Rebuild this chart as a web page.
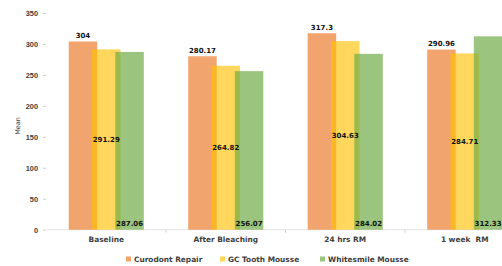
<!DOCTYPE html>
<html>
<head>
<meta charset="utf-8">
<script src="https://cdn.jsdelivr.net/npm/d3@7"></script>
<style>
  body { margin: 0; background: #fff; }
  svg { display: block; font-family: 'DejaVu Sans', sans-serif; }
</style>
</head>
<body>
<div id="chart"></div>
<script>
const categories = ['Baseline', 'After Bleaching', '24 hrs RM', '1 week  RM']
const seriesNames = ['Curodont Repair', 'GC Tooth Mousse', 'Whitesmile Mousse']
const curodont = [304, 280.17, 317.3, 290.96]
const gcTooth = [291.29, 264.82, 304.63, 284.71]
const whitesmile = [287.06, 256.07, 284.02, 312.33]
const yTicks = [0, 50, 100, 150, 200, 250, 300, 350]

const colors = ['#ED7D31', '#FFC000', '#70AD47']
const opac = [0.7, 0.64, 0.7]
const values = [curodont, gcTooth, whitesmile]

const width = 502
const height = 266

const svg = d3
  .select('#chart')
  .append('svg')
  .attr('width', width)
  .attr('height', height)

const xScale = d3
  .scaleBand()
  .domain(categories)
  .range([46.5, 524.5])

const yScale = d3
  .scaleLinear()
  .domain([0, 350])
  .range([229.7, 13])

const barW = 28.5
const step = 23.3

// y axis ticks
const yAxis = svg
  .append('g')
  .attr('class', 'axis y-axis')
  .attr('transform', 'translate(46,0)')
  .call(
    d3
      .axisLeft(yScale)
      .tickValues(yTicks)
      .tickSize(3)
      .tickPadding(5)
  )
yAxis.select('.domain').remove()
yAxis.selectAll('line').attr('stroke', '#d0d0d0')
yAxis
  .selectAll('text')
  .attr('font-size', 7.4)
  .attr('font-weight', 'bold')
  .attr('fill', '#404040')

// x baseline + ticks between categories
const xAxis = svg
  .append('g')
  .attr('class', 'axis x-axis')
  .attr('transform', 'translate(0,' + yScale(0) + ')')
xAxis
  .append('line')
  .attr('x1', xScale.range()[0])
  .attr('x2', width)
  .attr('stroke', '#e3e3e3')
  .attr('stroke-width', 1)
xAxis
  .selectAll('.sep')
  .data(categories.slice(1))
  .enter()
  .append('line')
  .attr('class', 'sep')
  .attr('x1', d => xScale(d))
  .attr('x2', d => xScale(d))
  .attr('y1', 0)
  .attr('y2', 3)
  .attr('stroke', '#d0d0d0')
xAxis
  .selectAll('.cat')
  .data(categories)
  .enter()
  .append('text')
  .attr('class', 'cat')
  .attr('x', d => xScale(d) + xScale.bandwidth() / 2)
  .attr('y', 12.5)
  .attr('text-anchor', 'middle')
  .attr('font-size', 7.4)
  .attr('font-weight', 'bold')
  .attr('fill', '#404040')
  .attr('xml:space', 'preserve')
  .text(d => d)

// bars
function barX(cat, i) {
  return xScale(cat) + xScale.bandwidth() / 2 + (i - 1) * step - barW / 2
}

values.forEach((vals, i) => {
  svg
    .append('g')
    .selectAll('rect')
    .data(categories)
    .enter()
    .append('rect')
    .attr('x', (d, j) => barX(d, i))
    .attr('width', barW)
    .attr('y', (d, j) => yScale(vals[j]))
    .attr('height', (d, j) => yScale(0) - yScale(vals[j]))
    .attr('fill', colors[i])
    .attr('fill-opacity', opac[i])
})

// value labels
const labelPos = [
  v => yScale(v) - 3.5,
  v => (yScale(v) + yScale(0)) / 2 + 2.6,
  v => yScale(0) - 4
]
values.forEach((vals, i) => {
  svg
    .append('g')
    .selectAll('text')
    .data(categories)
    .enter()
    .append('text')
    .attr('x', (d, j) => barX(d, i) + barW / 2)
    .attr('y', (d, j) => labelPos[i](vals[j]))
    .attr('text-anchor', 'middle')
    .attr('font-size', 7)
    .attr('font-weight', 'bold')
    .attr('fill', '#111')
    .text((d, j) => vals[j])
})

// y label
svg
  .append('text')
  .attr('transform', 'translate(19.5,126) rotate(-90)')
  .attr('text-anchor', 'middle')
  .attr('font-size', 6.5)
  .attr('fill', '#404040')
  .text('Mean')

// legend
const legendX = [126, 220, 320]
const legend = svg
  .append('g')
  .selectAll('g')
  .data(seriesNames)
  .enter()
  .append('g')
  .attr('transform', (d, i) => 'translate(' + legendX[i] + ',256.5)')
legend
  .append('rect')
  .attr('width', 5)
  .attr('height', 5)
  .attr('fill', (d, i) => colors[i])
  .attr('fill-opacity', (d, i) => opac[i])
legend
  .append('text')
  .attr('x', 8)
  .attr('y', 5)
  .attr('font-size', 7.4)
  .attr('font-weight', 'bold')
  .attr('fill', '#404040')
  .text(d => d)
</script>
</body>
</html>
